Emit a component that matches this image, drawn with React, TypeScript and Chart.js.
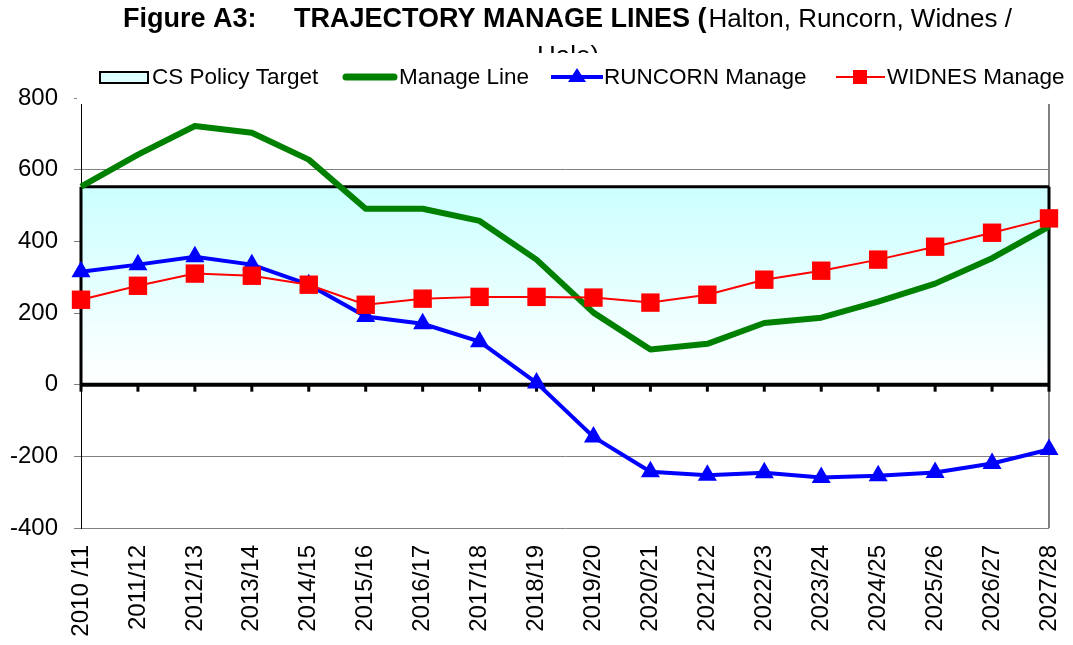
import React, { useEffect, useRef } from 'react';
import { Chart, registerables } from 'chart.js';

Chart.register(...registerables);

const categories = [
  '2010 /11', '2011/12', '2012/13', '2013/14', '2014/15', '2015/16',
  '2016/17', '2017/18', '2018/19', '2019/20', '2020/21', '2021/22',
  '2022/23', '2023/24', '2024/25', '2025/26', '2026/27', '2027/28',
];

const manageLine = [553, 642, 722, 703, 628, 491, 491, 457, 349, 201, 98, 114, 172, 187, 232, 282, 353, 441];
const runcornManage = [315, 335, 357, 335, 279, 190, 170, 120, 5, -146, -243, -253, -246, -259, -254, -245, -220, -181];
const widnesManage = [237, 276, 310, 304, 279, 223, 240, 245, 245, 243, 229, 251, 293, 318, 349, 385, 424, 464];
const csPolicyTarget = [552, 552, 552, 552, 552, 552, 552, 552, 552, 552, 552, 552, 552, 552, 552, 552, 552, 552];

const yMin = -400;
const yMax = 800;
const yStep = 200;

const titleBoldA = 'Figure A3:';
const titleBoldB = 'TRAJECTORY MANAGE LINES (';
const titleNormal = 'Halton, Runcorn, Widnes /';
const titleLine2 = 'Hale)';

const legendLabels = ['CS Policy Target', 'Manage Line', 'RUNCORN Manage', 'WIDNES Manage'];

const FONT = '"Liberation Sans", Arial, Helvetica, sans-serif';
const GREEN = '#008000';
const BLUE = '#0000FF';
const RED = '#FF0000';
const CYAN = '#CCFFFF';

const decorPlugin = {
  id: 'decor',
  beforeDatasetsDraw(chart: any) {
    const { ctx, chartArea } = chart;
    ctx.save();
    ctx.strokeStyle = '#808080';
    ctx.lineWidth = 2;
    ctx.beginPath();
    ctx.moveTo(chartArea.right, chartArea.top);
    ctx.lineTo(chartArea.right, chartArea.bottom);
    ctx.stroke();
    ctx.restore();
  },
  afterDatasetDraw(chart: any, args: any) {
    if (args.index !== 3) return;
    const { ctx, chartArea, scales } = chart;
    const xs = scales.x;
    const ys = scales.y;
    const n = categories.length;
    const y0 = ys.getPixelForValue(0);
    const yL = ys.getPixelForValue(csPolicyTarget[0]);
    const yR = ys.getPixelForValue(csPolicyTarget[n - 1]);
    const xL = xs.getPixelForValue(0);
    const xR = xs.getPixelForValue(n - 1);
    ctx.save();
    ctx.strokeStyle = '#000';
    ctx.lineWidth = 3;
    ctx.beginPath();
    ctx.moveTo(xL, y0);
    ctx.lineTo(xL, yL);
    ctx.moveTo(xR, y0);
    ctx.lineTo(xR, yR);
    ctx.stroke();
    ctx.lineWidth = 4;
    ctx.beginPath();
    ctx.moveTo(chartArea.left, y0);
    ctx.lineTo(chartArea.right, y0);
    ctx.stroke();
    ctx.fillStyle = '#000';
    for (let i = 0; i < n; i++) {
      const px = xs.getPixelForValue(i);
      ctx.fillRect(px - 1.5, y0, 3, 7);
    }
    ctx.restore();
  },
  afterDraw(chart: any) {
    const { ctx } = chart;
    ctx.save();
    // title
    ctx.fillStyle = '#000';
    ctx.textBaseline = 'alphabetic';
    ctx.textAlign = 'left';
    ctx.font = `bold 27px ${FONT}`;
    ctx.fillText(titleBoldA, 123, 27);
    ctx.fillText(titleBoldB, 294, 27);
    const wB = ctx.measureText(titleBoldB).width;
    ctx.font = `26px ${FONT}`;
    ctx.fillText(titleNormal, 294 + wB + 2, 27);
    ctx.textAlign = 'center';
    ctx.fillText(titleLine2, 568, 64);

    // legend box (covers second title line and top of plot)
    ctx.fillStyle = '#fff';
    ctx.fillRect(77, 53, chart.width - 77, 51);

    const yc = 77;
    const swX = [100, 343, 551, 836];
    const txX = [152, 399, 604, 887];

    // CS Policy Target swatch
    ctx.fillStyle = '#DDFFFF';
    ctx.fillRect(100, 72, 48, 11);
    ctx.strokeStyle = '#000';
    ctx.lineWidth = 2;
    ctx.strokeRect(100, 72, 48, 11);

    // Manage line swatch
    ctx.strokeStyle = GREEN;
    ctx.lineWidth = 7;
    ctx.lineCap = 'round';
    ctx.beginPath();
    ctx.moveTo(swX[1] + 3, yc);
    ctx.lineTo(swX[1] + 51, yc);
    ctx.stroke();

    // Runcorn swatch
    ctx.lineCap = 'butt';
    ctx.strokeStyle = BLUE;
    ctx.lineWidth = 4;
    ctx.beginPath();
    ctx.moveTo(swX[2], yc);
    ctx.lineTo(swX[2] + 52, yc);
    ctx.stroke();
    ctx.fillStyle = BLUE;
    const tcx = swX[2] + 26;
    ctx.beginPath();
    ctx.moveTo(tcx, yc - 9);
    ctx.lineTo(tcx + 9, yc + 5);
    ctx.lineTo(tcx - 9, yc + 5);
    ctx.closePath();
    ctx.fill();

    // Widnes swatch
    ctx.strokeStyle = RED;
    ctx.lineWidth = 2;
    ctx.beginPath();
    ctx.moveTo(swX[3], yc);
    ctx.lineTo(swX[3] + 49, yc);
    ctx.stroke();
    ctx.fillStyle = RED;
    ctx.fillRect(swX[3] + 24 - 7, yc - 7, 14, 14);

    ctx.fillStyle = '#000';
    ctx.textAlign = 'left';
    ctx.font = `22.5px ${FONT}`;
    for (let i = 0; i < legendLabels.length; i++) {
      ctx.fillText(legendLabels[i], txX[i], 84);
    }
    ctx.restore();
  },
};

export default function App() {
  const canvasRef = useRef<HTMLCanvasElement | null>(null);

  useEffect(() => {
    const canvas = canvasRef.current;
    if (!canvas) return;
    const chart = new Chart(canvas, {
      type: 'line',
      data: {
        labels: categories,
        datasets: [
          {
            label: legendLabels[3],
            data: widnesManage,
            borderColor: RED,
            backgroundColor: RED,
            borderWidth: 2,
            pointStyle: 'rect',
            pointRadius: 13,
            pointBackgroundColor: RED,
            pointBorderColor: RED,
            pointBorderWidth: 0,
            fill: false,
            order: 1,
          },
          {
            label: legendLabels[2],
            data: runcornManage,
            borderColor: BLUE,
            backgroundColor: BLUE,
            borderWidth: 4,
            pointStyle: 'triangle',
            pointRadius: 11,
            pointBackgroundColor: BLUE,
            pointBorderColor: BLUE,
            pointBorderWidth: 0,
            fill: false,
            order: 2,
          },
          {
            label: legendLabels[1],
            data: manageLine,
            borderColor: GREEN,
            backgroundColor: GREEN,
            borderWidth: 6,
            borderJoinStyle: 'round',
            pointRadius: 0,
            fill: false,
            order: 3,
          },
          {
            label: legendLabels[0],
            data: csPolicyTarget,
            borderColor: '#000',
            borderWidth: 3,
            pointRadius: 0,
            fill: 'origin',
            backgroundColor: (c: any) => {
              const ch = c.chart;
              if (!ch.chartArea) return CYAN;
              const ys = ch.scales.y;
              const top = ys.getPixelForValue(csPolicyTarget[0]);
              const bot = ys.getPixelForValue(0);
              const g = ch.ctx.createLinearGradient(0, top, 0, bot);
              g.addColorStop(0, CYAN);
              g.addColorStop(1, '#FFFFFF');
              return g;
            },
            order: 10,
          },
        ],
      },
      options: {
        responsive: false,
        animation: false,
        devicePixelRatio: 1,
        layout: { padding: { top: 98, left: 10, right: 24, bottom: 0 } },
        plugins: {
          legend: { display: false },
          title: { display: false },
          tooltip: { enabled: false },
        },
        scales: {
          x: {
            type: 'category',
            offset: false,
            grid: { display: false, drawTicks: false },
            border: { display: false },
            afterFit: (scale: any) => {
              scale.paddingLeft = 0;
              scale.paddingRight = 0;
              scale.height = 117;
            },
            ticks: {
              autoSkip: false,
              maxRotation: 90,
              minRotation: 90,
              padding: 17,
              color: '#000',
              font: { family: FONT, size: 24 },
            },
          },
          y: {
            min: yMin,
            max: yMax,
            afterFit: (scale: any) => {
              scale.width = 71;
            },
            grid: {
              color: '#808080',
              lineWidth: 1,
              tickLength: 7,
            },
            border: { display: true, color: '#000', width: 1 },
            ticks: {
              stepSize: yStep,
              padding: 16,
              color: '#000',
              font: { family: FONT, size: 24 },
            },
          },
        },
      },
      plugins: [decorPlugin],
    });
    return () => chart.destroy();
  }, []);

  return (
    <div style={{ position: 'absolute', left: 0, top: 0, width: 1073, height: 645, background: '#fff' }}>
      <canvas ref={canvasRef} width={1073} height={645} style={{ width: 1073, height: 645, display: 'block' }} />
    </div>
  );
}
